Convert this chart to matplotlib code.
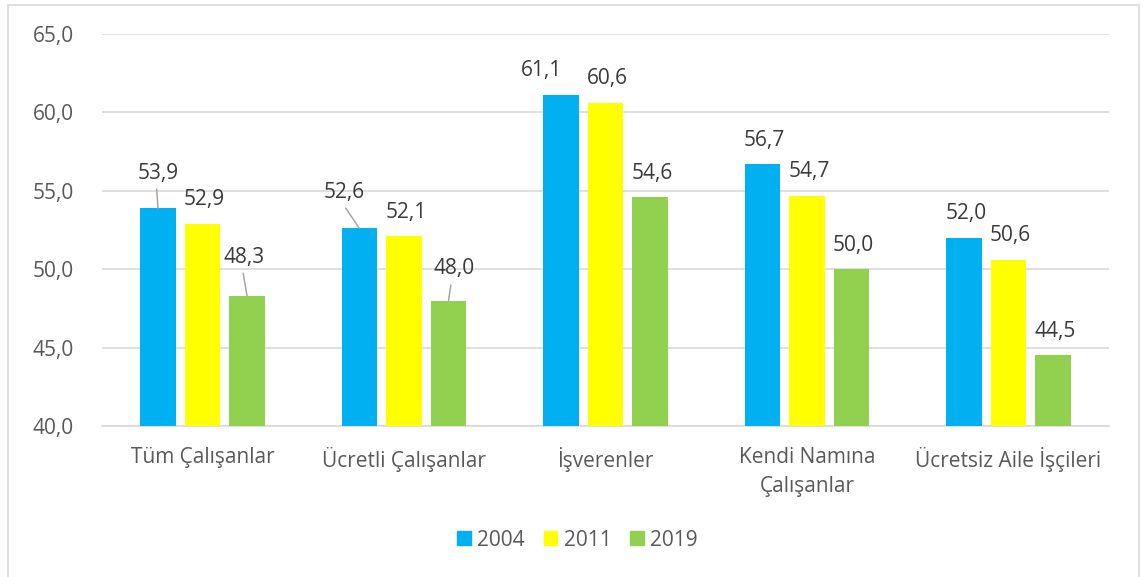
import matplotlib.pyplot as plt
from matplotlib.patches import Rectangle, Patch
import numpy as np

plt.rcParams['font.family'] = ['Open Sans', 'DejaVu Sans']

categories = ['Tüm Çalışanlar', 'Ücretli Çalışanlar', 'İşverenler',
              'Kendi Namına\nÇalışanlar', 'Ücretsiz Aile İşçileri']
years = ['2004', '2011', '2019']
v2004 = [53.9, 52.6, 61.1, 56.7, 52.0]
v2011 = [52.9, 52.1, 60.6, 54.7, 50.6]
v2019 = [48.3, 48.0, 54.6, 50.0, 44.5]
yticks = [40, 45, 50, 55, 60, 65]

colors = ['#00B0F0', '#FFFF00', '#92D050']
series = [v2004, v2011, v2019]

# label offsets in pixels (dx, dy up) from bar top; default (2, 25)
moved = {(0, 0): (0.5, 35), (2, 0): (-2.7, 38.7), (0, 1): (-15.2, 36),
         (2, 1): (5.2, 31.7), (0, 2): (-19, 25)}
leaders = [(0, 0), (2, 0), (0, 1), (2, 1)]

fig = plt.figure(figsize=(11.45, 5.77), dpi=100)
ax = fig.add_axes([101.7 / 1145, 1 - 426 / 577, 1007.6 / 1145, 392 / 577])

x = np.arange(len(categories))
w = 0.175
step = 0.221
for i, (vals, col) in enumerate(zip(series, colors)):
    xs = x + (i - 1) * step
    ax.bar(xs, [v - 40 for v in vals], bottom=40, width=w, color=col, zorder=3)
    for j, v in enumerate(vals):
        dx, dy = moved.get((i, j), (2, 24))
        arrow = None
        if (i, j) in leaders:
            arrow = dict(arrowstyle='-', color='#A6A6A6', lw=1.1,
                         shrinkA=2, shrinkB=0, relpos=(0.45, 0))
        ax.annotate(f'{v:.1f}'.replace('.', ','), xy=(xs[j], v),
                    xytext=(dx, dy), textcoords='offset pixels',
                    ha='center', va='center', fontsize=15, color='#3A3A3A',
                    arrowprops=arrow, zorder=4)

ax.set_xlim(-0.5, 4.5)
ax.set_ylim(40, 65)
ax.set_yticks(yticks)
ax.set_yticklabels([f'{t:.1f}'.replace('.', ',') for t in yticks])
ax.set_xticks(x)
ax.set_xticklabels(categories, linespacing=1.5)
ax.tick_params(axis='both', length=0, labelsize=15, labelcolor='#595959')
ax.tick_params(axis='y', pad=20)
ax.tick_params(axis='x', pad=15)
ax.grid(axis='y', color='#D9D9D9', lw=1.2, zorder=0)
for s in ['top', 'right', 'left']:
    ax.spines[s].set_visible(False)
ax.spines['bottom'].set_color('#D9D9D9')
ax.spines['bottom'].set_linewidth(1.2)

handles = [Patch(color=c, label=y) for c, y in zip(colors, years)]
fig.legend(handles=handles, loc='center', bbox_to_anchor=(0.5044, 1 - 540 / 577),
           ncol=3, frameon=False, fontsize=15, labelcolor='#595959',
           handlelength=0.66, handleheight=0.66, handletextpad=0.3,
           columnspacing=0.9, borderpad=0)

fig.patches.append(Rectangle((7.5 / 1145, -0.02), 1131.5 / 1145, 1.02 - 4.7 / 577,
                             transform=fig.transFigure, fill=False,
                             edgecolor='#D9D9D9', lw=1.2))

fig.savefig('out.png', dpi=100)
